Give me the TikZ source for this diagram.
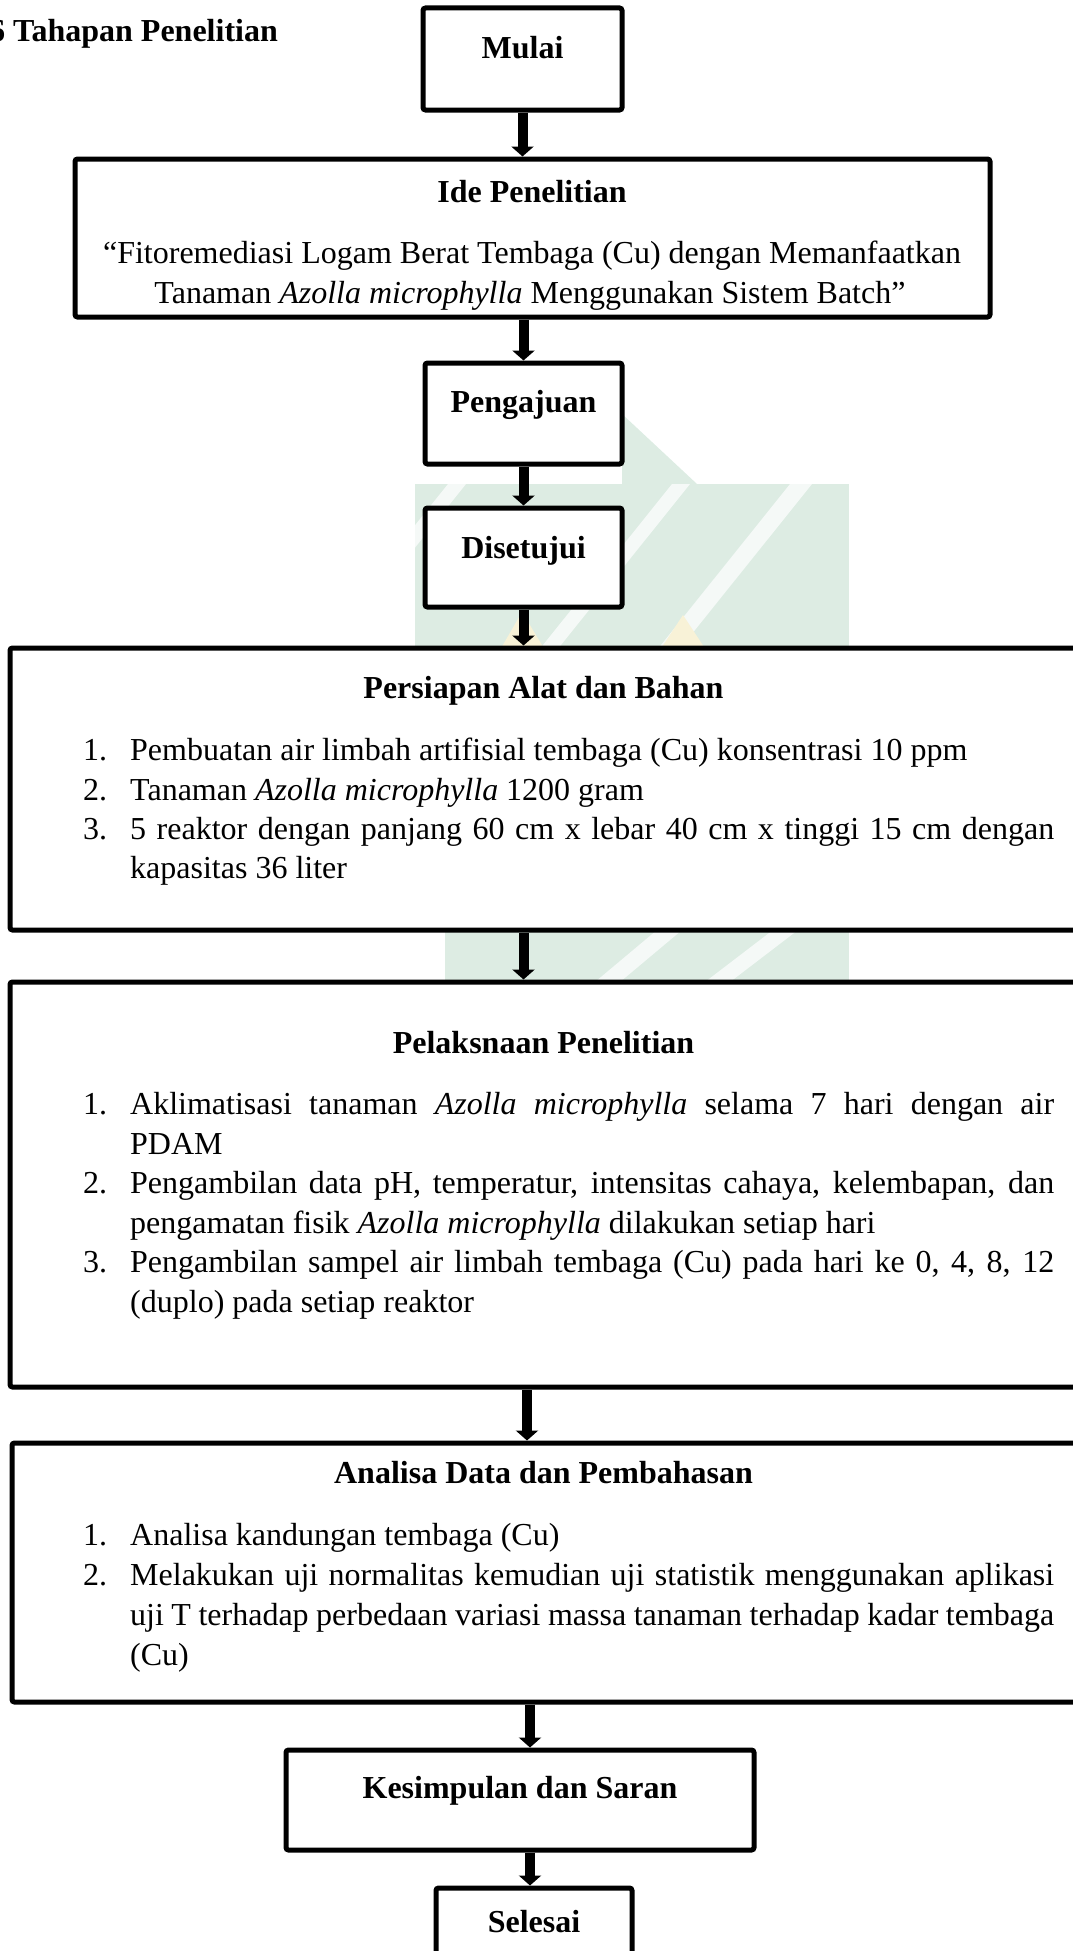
\documentclass[tikz,border=0pt]{standalone}
\usepackage{fontspec}
\setmainfont{Liberation Serif}
\usetikzlibrary{arrows.meta}
\definecolor{wm}{RGB}{221,236,227}
\definecolor{wmy}{RGB}{248,242,215}
\tikzset{
  boxnode/.style={draw=black, line width=5pt, fill=white, rounded corners=2.5pt, inner sep=0pt},
  txt/.style={inner sep=0pt, anchor=base, font=\fontsize{32}{39.6}\selectfont},
  ttl/.style={txt, font=\fontsize{32}{39.6}\selectfont\bfseries},
  lft/.style={txt, anchor=base west},
  arr/.style={line width=10pt, -{Triangle[width=22pt,length=10pt]}},
}
\begin{document}
\begin{tikzpicture}[x=1pt,y=-1pt]
\useasboundingbox (0,0) rectangle (1073,1951);
% watermark
\fill[wm] (622,414) -- (697,484) -- (622,484) -- cycle;
\begin{scope}
  \clip (415,484) rectangle (849,650);
  \fill[wm] (415,484) rectangle (849,650);
  \fill[wm!30] (448,484) -- (466,484) -- (333,650) -- (315,650) -- cycle;
  \fill[wm!30] (672,484) -- (690,484) -- (557,650) -- (539,650) -- cycle;
  \fill[wm!30] (790,484) -- (812,484) -- (679,650) -- (657,650) -- cycle;
  \fill[wmy] (500,650) -- (522,612) -- (545,650) -- cycle;
  \fill[wmy] (660,650) -- (683,615) -- (706,650) -- cycle;
\end{scope}
\begin{scope}
  \clip (445,930) rectangle (849,982);
  \fill[wm] (445,930) rectangle (849,982);
  \fill[wm!30] (657,930) -- (682,930) -- (620,982) -- (595,982) -- cycle;
  \fill[wm!30] (773,930) -- (798,930) -- (730,982) -- (705,982) -- cycle;
\end{scope}

% heading
\node[lft, font=\fontsize{32}{39.6}\selectfont\bfseries] (head) at (-11,42) {6 Tahapan Penelitian};

% boxes
\node[boxnode, minimum width=199pt, minimum height=102pt] (mulai) at (522.5,59) {};
\node[boxnode, minimum width=915pt, minimum height=158pt] (ide) at (532.5,238) {};
\node[boxnode, minimum width=197pt, minimum height=101pt] (peng) at (523.5,413.5) {};
\node[boxnode, minimum width=197pt, minimum height=99pt] (setuju) at (523.5,557.5) {};
\node[boxnode, minimum width=1067pt, minimum height=282pt] (persiapan) at (543.5,789) {};
\node[boxnode, minimum width=1067pt, minimum height=405pt] (pelaks) at (543.5,1184.5) {};
\node[boxnode, minimum width=1065pt, minimum height=259pt] (analisa) at (544.5,1572.5) {};
\node[boxnode, minimum width=468pt, minimum height=100pt] (kesim) at (520,1800) {};
\node[boxnode, minimum width=196pt, minimum height=104pt] (selesai) at (534,1940) {};

% arrows
\draw[arr] (mulai.south) -- (mulai.south |- ide.north);
\draw[arr] (peng.north |- ide.south) -- (peng.north);
\draw[arr] (peng.south) -- (setuju.north);
\draw[arr] (setuju.south) -- (setuju.south |- persiapan.north);
\draw[arr] (setuju.south |- persiapan.south) -- (setuju.south |- pelaks.north);
\draw[arr] ([xshift=-16.5pt]pelaks.south) -- ([xshift=-16.5pt]pelaks.south |- analisa.north);
\draw[arr] ([xshift=10pt]kesim.north |- analisa.south) -- ([xshift=10pt]kesim.north);
\draw[arr] ([xshift=10pt]kesim.south) -- ([xshift=10pt]kesim.south |- selesai.north);

% texts
\node[ttl] (tmulai) at (522.5,59) {Mulai};
\node[ttl] (tide) at (532,202) {Ide Penelitian};
\node[txt] (tide1) at (532,263) {“Fitoremediasi Logam Berat Tembaga (Cu) dengan Memanfaatkan};
\node[txt] (tide2) at (530,303) {Tanaman \textit{Azolla microphylla} Menggunakan Sistem Batch”};
\node[ttl] (tpeng) at (523.5,412) {Pengajuan};
\node[ttl] (tsetuju) at (523.5,558) {Disetujui};

\node[ttl] (tpers) at (543.5,698) {Persiapan Alat dan Bahan};
\node[lft] (p1n) at (83,760) {1.};
\node[lft] (p1) at (130,760) {Pembuatan air limbah artifisial tembaga (Cu) konsentrasi 10 ppm};
\node[lft] (p2n) at (83,800) {2.};
\node[lft] (p2) at (130,800) {Tanaman \textit{Azolla microphylla} 1200 gram};
\node[lft] (p3n) at (83,839) {3.};
\node[lft] (p3) at (130,839) {\makebox[924pt][s]{5 reaktor dengan panjang 60 cm x lebar 40 cm x tinggi 15 cm dengan}};
\node[lft] (p3b) at (130,878) {kapasitas 36 liter};

\node[ttl] (tpel) at (543.5,1053) {Pelaksnaan Penelitian};
\node[lft] (q1n) at (83,1114) {1.};
\node[lft] (q1) at (130,1114) {\makebox[924pt][s]{Aklimatisasi tanaman \textit{Azolla microphylla} selama 7 hari dengan air}};
\node[lft] (q1b) at (130,1154) {PDAM};
\node[lft] (q2n) at (83,1193) {2.};
\node[lft] (q2) at (130,1193) {\makebox[924pt][s]{Pengambilan data pH, temperatur, intensitas cahaya, kelembapan, dan}};
\node[lft] (q2b) at (130,1233) {pengamatan fisik \textit{Azolla microphylla} dilakukan setiap hari};
\node[lft] (q3n) at (83,1272) {3.};
\node[lft] (q3) at (130,1272) {\makebox[924pt][s]{Pengambilan sampel air limbah tembaga (Cu) pada hari ke 0, 4, 8, 12}};
\node[lft] (q3b) at (130,1312) {(duplo) pada setiap reaktor};

\node[ttl] (tana) at (543.5,1483) {Analisa Data dan Pembahasan};
\node[lft] (r1n) at (83,1545) {1.};
\node[lft] (r1) at (130,1545) {Analisa kandungan tembaga (Cu)};
\node[lft] (r2n) at (83,1585) {2.};
\node[lft] (r2) at (130,1585) {\makebox[924pt][s]{Melakukan uji normalitas kemudian uji statistik menggunakan aplikasi}};
\node[lft] (r2b) at (130,1625) {\makebox[924pt][s]{uji T terhadap perbedaan variasi massa tanaman terhadap kadar tembaga}};
\node[lft] (r2c) at (130,1665) {(Cu)};

\node[ttl] (tkes) at (520,1798) {Kesimpulan dan Saran};
\node[ttl] (tsel) at (534,1932) {Selesai};
\end{tikzpicture}
\end{document}
